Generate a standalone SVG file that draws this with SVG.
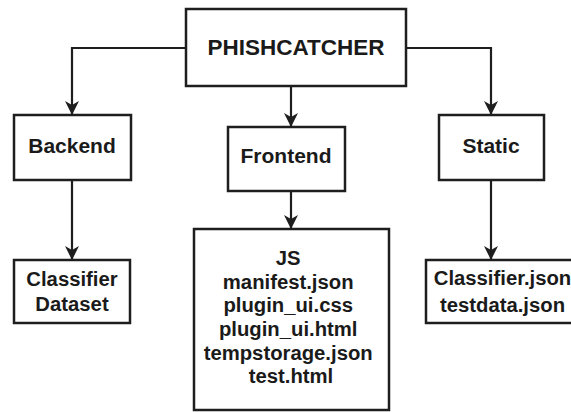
<svg xmlns="http://www.w3.org/2000/svg" width="571" height="412" viewBox="0 0 571 412">
<style>
.box{fill:#fff;stroke:#1e1e1e;stroke-width:2.5}
.t{font-family:"Liberation Sans",Arial,sans-serif;font-weight:bold;fill:#1a1a1a;text-anchor:middle}
.edge{fill:none;stroke:#1e1e1e;stroke-width:2.2}
</style>
<defs>
<marker id="arr" viewBox="0 0 14 14" refX="13" refY="7" markerWidth="14" markerHeight="14" markerUnits="userSpaceOnUse" orient="auto">
<path d="M0,0 L14,7 L0,14 L4,7 Z" fill="#1e1e1e"/>
</marker>
</defs>
<rect width="571" height="412" fill="#fff"/>
<g id="connectors">
<path class="edge" d="M186,48 H72 V114" marker-end="url(#arr)"/>
<path class="edge" d="M406,48 H491 V114" marker-end="url(#arr)"/>
<path class="edge" d="M291,86 V126" marker-end="url(#arr)"/>
<path class="edge" d="M72,180 V259" marker-end="url(#arr)"/>
<path class="edge" d="M291,191 V228" marker-end="url(#arr)"/>
<path class="edge" d="M491,180 V259" marker-end="url(#arr)"/>
</g>
<g id="phishcatcher">
<rect class="box" x="186" y="9" width="220" height="77"/>
<text class="t" x="296" y="55" font-size="22.5">PHISHCATCHER</text>
</g>
<g id="backend">
<rect class="box" x="14" y="115" width="117" height="65"/>
<text class="t" x="72" y="153" font-size="21">Backend</text>
</g>
<g id="frontend">
<rect class="box" x="228" y="127" width="117" height="64"/>
<text class="t" x="286" y="163" font-size="21">Frontend</text>
</g>
<g id="static">
<rect class="box" x="439" y="115" width="105" height="65"/>
<text class="t" x="491" y="153" font-size="21">Static</text>
</g>
<g id="backend-files">
<rect class="box" x="14" y="260" width="116" height="63"/>
<text class="t" x="72" y="286" font-size="20.3">Classifier</text>
<text class="t" x="72" y="311" font-size="20.3">Dataset</text>
</g>
<g id="frontend-files">
<rect class="box" x="194" y="229" width="195" height="181"/>
<text class="t" font-size="20.3">
<tspan x="291" y="265">JS</tspan>
<tspan x="291" y="289">manifest.json</tspan>
<tspan x="291" y="312">plugin_ui.css</tspan>
<tspan x="291" y="336">plugin_ui.html</tspan>
<tspan x="291" y="360">tempstorage.json</tspan>
<tspan x="291" y="383">test.html</tspan>
</text>
</g>
<g id="static-files">
<rect class="box" x="426" y="260" width="150" height="63"/>
<text class="t" x="502.5" y="285" font-size="20.3">Classifier.json</text>
<text class="t" x="502.5" y="312" font-size="20.3">testdata.json</text>
</g>
</svg>
